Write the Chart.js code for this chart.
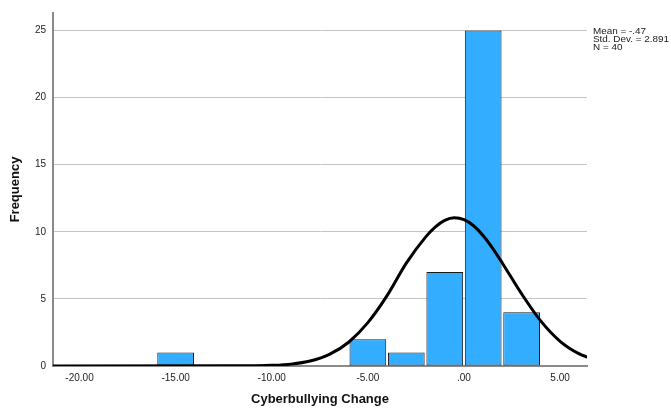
<!DOCTYPE html>
<html>
<head>
<meta charset="utf-8">
<script src="https://cdn.jsdelivr.net/npm/chart.js@4/dist/chart.umd.min.js"></script>
<style>
  html, body { margin: 0; padding: 0; background: #ffffff; }
  #wrap { width: 671px; height: 411px; position: relative; }
</style>
</head>
<body>
<div id="wrap"><canvas id="hist"></canvas></div>
<script>
// ヒストグラム 階級の中心
const binCenters = [-15, -5, -3, -1, 1, 3];
// 度数
const binCounts = [1, 2, 1, 7, 25, 4];

// 正規曲線
const curveX = [-22, -12, -11, -10, -9, -8, -7, -6, -5, -4, -3, -2, -1.5, -1, -0.5, 0, 0.5, 1, 1.5, 2, 3, 4, 5, 6, 6.5];
const curveY = [0, 0.01, 0.02, 0.05, 0.14, 0.37, 0.86, 1.77, 3.23, 5.24, 7.66, 9.6, 10.35, 10.85, 11.04, 10.9, 10.45, 9.7, 8.75, 7.66, 5.37, 3.34, 1.84, 0.9, 0.62];

// 目盛り
const xTickValues = [-20, -15, -10, -5, 0, 5];
const yTickValues = [0, 5, 10, 15, 20, 25];

// 統計量
const statLines = ['Mean = -.47', 'Std. Dev. = 2.891', 'N = 40'];

const FONT = '"Liberation Sans", Arial, sans-serif';

// 統計量テキスト
const statsPlugin = {
  id: 'stats',
  afterDraw(chart) {
    const ctx = chart.ctx;
    ctx.save();
    ctx.translate(593, 0);
    ctx.scale(1.1, 1);
    ctx.font = '9px ' + FONT;
    ctx.fillStyle = '#1a1a1a';
    ctx.textAlign = 'left';
    ctx.textBaseline = 'alphabetic';
    statLines.forEach((t, i) => {
      ctx.fillText(t, 0, 33.5 + i * 8.4);
    });
    ctx.restore();
  }
};

new Chart(document.getElementById('hist'), {
  type: 'bar',
  data: {
    datasets: [{
      type: 'line',
      data: curveX.map((x, i) => ({ x: x, y: curveY[i] })),
      borderColor: '#000000',
      borderWidth: 3,
      pointRadius: 0,
      cubicInterpolationMode: 'monotone',
      fill: false,
      order: 0
    }, {
      type: 'bar',
      data: binCenters.map((x, i) => ({ x: x, y: binCounts[i] })),
      backgroundColor: '#33adff',
      borderColor: '#1a1a1a',
      borderWidth: 1,
      borderSkipped: false,
      barPercentage: 1,
      categoryPercentage: 0.955,
      grouped: false,
      order: 1
    }]
  },
  options: {
    responsive: true,
    maintainAspectRatio: false,
    animation: false,
    events: [],
    layout: { padding: { top: 10, right: 84, bottom: 0, left: 0 } },
    plugins: {
      legend: { display: false },
      tooltip: { enabled: false }
    },
    scales: {
      x: {
        type: 'linear',
        offset: false,
        min: -21.38,
        max: 6.4,
        afterBuildTicks: (s) => { s.ticks = xTickValues.map(v => ({ value: v })); },
        afterFit: (s) => { s.height = 45; },
        grid: { display: false, drawTicks: false, offset: false },
        border: { color: '#8a8a8a', width: 2 },
        ticks: {
          padding: 6,
          maxRotation: 0,
          autoSkip: false,
          color: '#222222',
          font: { family: FONT, size: 10 },
          callback: (v) => v === 0 ? '.00' : v.toFixed(2)
        },
        title: {
          display: true,
          text: 'Cyberbullying Change',
          color: '#111111',
          font: { family: FONT, size: 13, weight: 'bold' },
          padding: { top: 0, bottom: 4 }
        }
      },
      y: {
        min: 0,
        max: 26.3,
        afterBuildTicks: (s) => { s.ticks = yTickValues.map(v => ({ value: v })); },
        afterFit: (s) => { s.width = 53; },
        grid: { color: '#c4c4c4', lineWidth: 1, drawTicks: false },
        border: { color: '#8a8a8a', width: 2 },
        ticks: {
          padding: 7,
          color: '#222222',
          font: { family: FONT, size: 10 }
        },
        title: {
          display: true,
          text: 'Frequency',
          color: '#111111',
          font: { family: FONT, size: 13, weight: 'bold' },
          padding: { top: 8, bottom: 0 }
        }
      }
    }
  },
  plugins: [statsPlugin]
});
</script>
</body>
</html>
